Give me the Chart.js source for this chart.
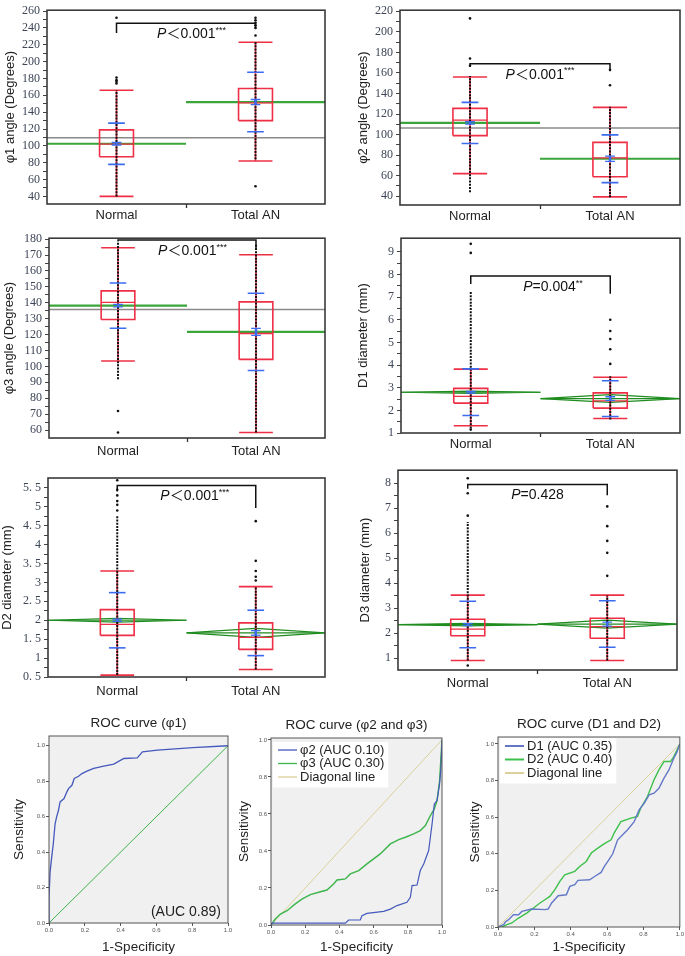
<!DOCTYPE html>
<html>
<head>
<meta charset="utf-8">
<script src="https://cdn.jsdelivr.net/npm/chart.js@4.4.0/dist/chart.umd.min.js"></script>
<style>
  body { margin: 0; background: #fff; width: 685px; height: 956px; position: relative; overflow: hidden; }
  .panel { position: absolute; }
</style>
</head>
<body>
<div class="panel" style="left:0;top:0;width:335px;height:226px"><canvas id="c1"></canvas></div>
<div class="panel" style="left:340px;top:0;width:345px;height:226px"><canvas id="c2"></canvas></div>
<div class="panel" style="left:0;top:228px;width:335px;height:232px"><canvas id="c3"></canvas></div>
<div class="panel" style="left:340px;top:228px;width:345px;height:226px"><canvas id="c4"></canvas></div>
<div class="panel" style="left:0;top:460px;width:335px;height:240px"><canvas id="c5"></canvas></div>
<div class="panel" style="left:340px;top:460px;width:345px;height:234px"><canvas id="c6"></canvas></div>
<div class="panel" style="left:0;top:700px;width:236px;height:256px"><canvas id="r1"></canvas></div>
<div class="panel" style="left:236px;top:700px;width:212px;height:256px"><canvas id="r2"></canvas></div>
<div class="panel" style="left:452px;top:700px;width:233px;height:256px"><canvas id="r3"></canvas></div>
<script>
// ===============================
//   data
// ===============================
const groups = ["Normal", "Total AN"];

// box = [q1, median, q3, whisker low, whisker high] per group
// φ1 angle
const phi1Box = [[87, 102, 119, 40, 166], [130, 151, 168, 82, 223]];
const phi1Mean = [102.5, 152];
const phi1Sd = [24.5, 35.3];
const phi1Se = [1.5, 3];
const phi1Grand = 109.5;
const phi1Dense = [[40, 166], [84, 224]];
const phi1Dots = [[252, 181, 178, 176, 174], [252, 249, 246, 243, 240, 231, 52]];
const phi1Ticks = [40, 60, 80, 100, 120, 140, 160, 180, 200, 220, 240, 260];
const phi1Bracket = [245.5, 234, 239];
const phi1P = ["＜0.001", "***"];

// φ2 angle
const phi2Box = [[99, 114, 125.5, 62, 156], [59, 77.3, 92.4, 39.4, 126.5]];
const phi2Mean = [111.3, 76.5];
const phi2Sd = [20, 23.2];
const phi2Se = [1.2, 2.5];
const phi2Grand = 106.3;
const phi2Dense = [[44, 157], [39, 127]];
const phi2Dots = [[213, 174, 167], [163, 148]];
const phi2Ticks = [40, 60, 80, 100, 120, 140, 160, 180, 200, 220];
const phi2Bracket = [168.8, 166, 161.5];
const phi2P = ["＜0.001", "***"];

// φ3 angle
const phi3Box = [[129.5, 140.2, 147.5, 103.4, 174.6], [104.4, 120.7, 140.6, 58.5, 170.2]];
const phi3Mean = [138.2, 121.7];
const phi3Sd = [14.2, 24.3];
const phi3Se = [0.8, 2.2];
const phi3Grand = 135.8;
const phi3Dense = [[92, 178], [58.5, 177]];
const phi3Dots = [[72, 58.5], []];
const phi3Ticks = [60, 70, 80, 90, 100, 110, 120, 130, 140, 150, 160, 170, 180];
const phi3Bracket = [179.4, 178.5, 174];
const phi3P = ["＜0.001", "***"];

// D1 diameter
const d1Box = [[2.32, 2.62, 2.97, 1.32, 3.82], [2.1, 2.42, 2.77, 1.64, 3.46]];
const d1Mean = [2.8, 2.52];
const d1Sd = [1.03, 0.79];
const d1Se = [0.04, 0.08];
const d1Ci = [0.05, 0.17];
const d1Dense = [[1.2, 7.25], [1.6, 3.5]];
const d1Dots = [[9.35, 8.95, 1.15], [6.0, 5.5, 5.15, 4.7, 4.05]];
const d1Ticks = [1, 2, 3, 4, 5, 6, 7, 8, 9];
const d1Bracket = [7.93, 7.58, 7.15];
const d1P = ["=0.004", "**"];

// D2 diameter
const d2Box = [[1.6, 1.89, 2.28, 0.55, 3.3], [1.23, 1.55, 1.93, 0.7, 2.89]];
const d2Mean = [2.0, 1.665];
const d2Sd = [0.73, 0.6];
const d2Se = [0.03, 0.06];
const d2Ci = [0.05, 0.12];
const d2Dense = [[0.55, 4.75], [0.7, 2.9]];
const d2Dots = [[5.7, 5.45, 5.3, 5.15, 5.05, 4.9], [4.62, 3.57, 3.3, 3.15, 3.05]];
const d2Ticks = [0.5, 1, 1.5, 2, 2.5, 3, 3.5, 4, 4.5, 5, 5.5];
const d2Bracket = [5.56, 5.4, 4.97];
const d2P = ["＜0.001", "***"];

// D3 diameter
const d3Box = [[1.89, 2.16, 2.55, 0.9, 3.52], [1.79, 2.26, 2.59, 0.9, 3.52]];
const d3Mean = [2.34, 2.36];
const d3Sd = [0.93, 0.93];
const d3Se = [0.04, 0.08];
const d3Ci = [0.05, 0.16];
const d3Dense = [[0.9, 6.45], [0.9, 3.5]];
const d3Dots = [[8.2, 7.6, 6.7, 0.7], [7.07, 6.28, 5.69, 5.21, 4.29]];
const d3Ticks = [1, 2, 3, 4, 5, 6, 7, 8];
const d3Bracket = [7.95, 7.78, 7.52];
const d3P = ["=0.428", ""];

// ROC curves (1-specificity, sensitivity)
const rocTicks = [0, 0.2, 0.4, 0.6, 0.8, 1];
const diagFpr = [0, 1];
const diagTpr = [0, 1];
const rocPhi1Fpr = [0, 0, 0.006, 0.015, 0.024, 0.034, 0.043, 0.053, 0.062, 0.084, 0.1, 0.109, 0.128, 0.141, 0.165, 0.184, 0.212, 0.25, 0.306, 0.362, 0.418, 0.493, 0.522, 0.606, 0.803, 1];
const rocPhi1Tpr = [0, 0.145, 0.287, 0.37, 0.447, 0.56, 0.6, 0.636, 0.683, 0.702, 0.74, 0.758, 0.777, 0.815, 0.828, 0.843, 0.857, 0.872, 0.885, 0.896, 0.928, 0.932, 0.966, 0.975, 0.989, 1];
const rocPhi2Fpr = [0, 0.006, 0.435, 0.454, 0.522, 0.532, 0.561, 0.659, 0.698, 0.737, 0.795, 0.815, 0.825, 0.854, 0.873, 0.893, 0.922, 0.932, 0.942, 0.955, 0.971, 0.986, 0.994, 1];
const rocPhi2Tpr = [0, 0.01, 0.01, 0.027, 0.027, 0.05, 0.063, 0.074, 0.086, 0.105, 0.123, 0.15, 0.213, 0.216, 0.294, 0.33, 0.402, 0.474, 0.546, 0.654, 0.672, 0.762, 0.852, 1];
const rocPhi3Fpr = [0, 0.025, 0.055, 0.094, 0.142, 0.181, 0.23, 0.279, 0.327, 0.366, 0.386, 0.435, 0.464, 0.513, 0.561, 0.6, 0.639, 0.698, 0.747, 0.786, 0.834, 0.873, 0.903, 0.932, 0.955, 0.971, 0.986, 0.994, 1];
const rocPhi3Tpr = [0, 0.032, 0.059, 0.077, 0.114, 0.14, 0.164, 0.177, 0.189, 0.222, 0.243, 0.249, 0.276, 0.294, 0.33, 0.357, 0.384, 0.438, 0.461, 0.474, 0.492, 0.51, 0.537, 0.591, 0.627, 0.672, 0.78, 0.906, 1];
const rocD1Fpr = [0, 0.031, 0.04, 0.058, 0.085, 0.113, 0.131, 0.185, 0.258, 0.276, 0.295, 0.331, 0.376, 0.395, 0.422, 0.44, 0.504, 0.531, 0.567, 0.585, 0.604, 0.631, 0.658, 0.695, 0.713, 0.749, 0.776, 0.804, 0.831, 0.858, 0.885, 0.913, 0.94, 0.967, 0.985, 1];
const rocD1Tpr = [0, 0.013, 0.027, 0.04, 0.067, 0.067, 0.085, 0.098, 0.095, 0.098, 0.131, 0.171, 0.176, 0.222, 0.231, 0.255, 0.258, 0.276, 0.298, 0.331, 0.358, 0.4, 0.476, 0.513, 0.531, 0.576, 0.64, 0.676, 0.722, 0.731, 0.758, 0.813, 0.858, 0.922, 0.958, 1];
const rocD2Fpr = [0, 0.022, 0.049, 0.076, 0.113, 0.158, 0.195, 0.231, 0.258, 0.285, 0.313, 0.34, 0.367, 0.422, 0.449, 0.485, 0.513, 0.549, 0.585, 0.622, 0.64, 0.676, 0.731, 0.767, 0.785, 0.822, 0.858, 0.885, 0.913, 0.949, 0.967, 1];
const rocD2Tpr = [0, 0, 0.013, 0.022, 0.049, 0.076, 0.104, 0.131, 0.149, 0.167, 0.204, 0.249, 0.285, 0.304, 0.331, 0.358, 0.404, 0.431, 0.455, 0.476, 0.516, 0.576, 0.595, 0.604, 0.649, 0.713, 0.804, 0.858, 0.904, 0.904, 0.931, 1];

// ===============================
//   styles
// ===============================
const SANS = '"Liberation Sans", Arial, "Noto Sans CJK SC", sans-serif';
const SERIF = '"Liberation Serif", "Times New Roman", serif';
Chart.defaults.font.family = SANS;

const RED = "#ee2f45";
const BLUE = "#3b6cf0";
const GREEN = "#3aa53a";
const DGREEN = "#1f8c1f";
const GRAY = "#8a8a8a";
const BOX_HALF = 0.122;
const SD_HALF = 0.06;

// -------------------------------
// plugins: frame / background / titles / legend / p labels
// -------------------------------
const framePlugin = {
    id: "frame",
    beforeDraw(chart, args, o) {
        const { ctx, chartArea: a } = chart;
        ctx.save();
        if (o.fill) {
            ctx.fillStyle = o.fill;
            ctx.fillRect(a.left, a.top, a.width, a.height);
        }
        if (o.title) {
            ctx.fillStyle = "#222";
            ctx.font = "13.5px " + SANS;
            ctx.textAlign = "center";
            ctx.textBaseline = "middle";
            ctx.fillText(o.title, (a.left + a.right) / 2, a.top - 13);
        }
        ctx.restore();
    },
    afterDatasetsDraw(chart, args, o) {
        const { ctx, scales, chartArea: a } = chart;
        ctx.save();
        if (o.note) {
            ctx.fillStyle = "#222";
            ctx.font = "14px " + SANS;
            ctx.textAlign = "center";
            ctx.textBaseline = "middle";
            ctx.fillText(o.note.text, scales.x.getPixelForValue(o.note.x), scales.y.getPixelForValue(o.note.y));
        }
        if (o.legend) {
            // legend box inside the plot, top left
            const items = chart.data.datasets;
            ctx.font = "13px " + SANS;
            const textW = Math.max(...items.map(d => ctx.measureText(d.label).width));
            const x0 = a.left + o.legend.dx, y0 = a.top + o.legend.dy, row = 13.5;
            ctx.fillStyle = "#fff";
            ctx.fillRect(a.left + 2, y0 - 8, o.legend.dx + 24 + textW, row * items.length + 5);
            items.forEach((d, k) => {
                const yy = y0 + k * row;
                ctx.strokeStyle = d.borderColor;
                ctx.lineWidth = o.legend.lw;
                ctx.beginPath();
                ctx.moveTo(x0, yy);
                ctx.lineTo(x0 + 19, yy);
                ctx.stroke();
                ctx.fillStyle = "#222";
                ctx.textAlign = "left";
                ctx.textBaseline = "middle";
                ctx.fillText(d.label, x0 + 22, yy);
            });
        }
        ctx.restore();
    },
    afterDraw(chart, args, o) {
        const { ctx, chartArea: a } = chart;
        ctx.save();
        ctx.strokeStyle = o.color || "#3a3a3a";
        ctx.lineWidth = o.width || 1.6;
        ctx.strokeRect(a.left, a.top, a.width, a.height);
        ctx.restore();
    }
};

const pLabelPlugin = {
    id: "pLabel",
    afterDatasetsDraw(chart, args, o) {
        if (!o.parts) return;
        const { ctx, scales: { x, y } } = chart;
        const px = x.getPixelForValue(o.x);
        const py = y.getPixelForValue(o.y) + 11;
        const fItal = "italic 14px " + SANS, fMain = "14px " + SANS, fSup = "9px " + SANS;
        ctx.save();
        ctx.fillStyle = "#111";
        ctx.textBaseline = "middle";
        ctx.textAlign = "left";
        ctx.font = fItal; const w1 = ctx.measureText("P").width;
        ctx.font = fMain; const w2 = ctx.measureText(o.parts[0]).width;
        ctx.font = fSup; const w3 = ctx.measureText(o.parts[1]).width;
        let cx = px - (w1 + w2 + w3) / 2;
        ctx.font = fItal; ctx.fillText("P", cx, py); cx += w1;
        ctx.font = fMain; ctx.fillText(o.parts[0], cx, py); cx += w2;
        ctx.font = fSup; ctx.fillText(o.parts[1], cx, py - 4);
        ctx.restore();
    }
};

Chart.register(framePlugin, pLabelPlugin);

// -------------------------------
// helpers
// -------------------------------
function seg(pts, color, width, dash) {
    return {
        data: pts,
        borderColor: color,
        borderWidth: width,
        borderDash: dash || [],
        pointRadius: 0,
        fill: false,
        tension: 0
    };
}

function fmtTick(v) {
    return Number.isInteger(v) ? String(v) : v.toFixed(1).replace(".", ". ");
}

// -------------------------------
// box plot panel
// -------------------------------
function dibujarCaja(p) {
    const ds = [];  // bottom to top

    if (p.grand !== undefined) {
        ds.push(seg([{ x: 0, y: p.grand }, { x: 2, y: p.grand }], GRAY, 1.5));
    }

    p.box.forEach((b, i) => {
        const c = i + 0.5;
        const [q1, med, q3, lo, hi] = b;
        const m = p.mean[i], s = p.sd[i], e = p.se[i];

        // group mean line / means diamond
        if (p.ci) {
            const h = p.ci[i];
            ds.push(seg([{ x: i, y: m }, { x: c, y: m + h }, { x: i + 1, y: m }, { x: c, y: m - h }, { x: i, y: m }], DGREEN, 1.2));
            ds.push(seg([{ x: i, y: m }, { x: i + 1, y: m }], DGREEN, 1.2));
        } else {
            ds.push(seg([{ x: i, y: m }, { x: i + 1, y: m }], GREEN, 2.2));
        }

        // box + whiskers
        ds.push(seg([{ x: c, y: lo }, { x: c, y: hi }], RED, 1.6));
        ds.push(seg([{ x: c - BOX_HALF, y: lo }, { x: c + BOX_HALF, y: lo }], RED, 1.6));
        ds.push(seg([{ x: c - BOX_HALF, y: hi }, { x: c + BOX_HALF, y: hi }], RED, 1.6));
        ds.push(seg([{ x: c - BOX_HALF, y: q1 }, { x: c + BOX_HALF, y: q1 }, { x: c + BOX_HALF, y: q3 },
                     { x: c - BOX_HALF, y: q3 }, { x: c - BOX_HALF, y: q1 }], RED, 1.6));
        ds.push(seg([{ x: c - BOX_HALF, y: med }, { x: c + BOX_HALF, y: med }], RED, 1.3));

        // data points
        ds.push(seg([{ x: c, y: p.dense[i][0] }, { x: c, y: p.dense[i][1] }], "#111", 2, [2, 1.2]));
        ds.push({
            data: p.dots[i].map(v => ({ x: c, y: v })),
            showLine: false,
            pointRadius: 1.3,
            pointBackgroundColor: "#111",
            pointBorderWidth: 0
        });

        // mean ± sd, mean ± se
        ds.push(seg([{ x: c - SD_HALF, y: m + s }, { x: c + SD_HALF, y: m + s }], BLUE, 1.6));
        ds.push(seg([{ x: c - SD_HALF, y: m - s }, { x: c + SD_HALF, y: m - s }], BLUE, 1.6));
        ds.push(seg([{ x: c, y: m - e }, { x: c, y: m + e }], BLUE, 2.5));
        ds.push(seg([{ x: c - 0.035, y: m + e }, { x: c + 0.035, y: m + e }], BLUE, 1.3));
        ds.push(seg([{ x: c - 0.035, y: m - e }, { x: c + 0.035, y: m - e }], BLUE, 1.3));
    });

    // significance bracket
    const [yb, yl, yr] = p.bracket;
    ds.push(seg([{ x: 0.5, y: yl }, { x: 0.5, y: yb }, { x: 1.5, y: yb }, { x: 1.5, y: yr }], "#111", 1.5));

    const majors = new Set(p.ticks.map(v => v.toFixed(3)));
    const allTicks = [];
    p.ticks.forEach((v, k) => {
        allTicks.push(v);
        if (k < p.ticks.length - 1) allTicks.push((v + p.ticks[k + 1]) / 2);
    });

    new Chart(document.getElementById(p.id), {
        type: "line",
        data: { datasets: ds.reverse() },
        options: {
            animation: false,
            responsive: true,
            maintainAspectRatio: false,
            events: [],
            layout: { padding: { top: p.padT, right: p.padR, left: 0, bottom: 0 } },
            plugins: {
                legend: { display: false },
                tooltip: { enabled: false },
                frame: { color: "#3a3a3a", width: 1.6 },
                pLabel: { parts: p.p, x: p.pX, y: yb }
            },
            scales: {
                x: {
                    type: "linear",
                    min: 0,
                    max: 2,
                    afterBuildTicks: s => { s.ticks = [0.5, 1, 1.5].map(v => ({ value: v })); },
                    afterFit: s => { s.height = p.xH; },
                    ticks: {
                        autoSkip: false,
                        maxRotation: 0,
                        padding: p.xPad,
                        color: "#222",
                        font: { size: 13 },
                        callback: v => v === 0.5 ? groups[0] : v === 1.5 ? groups[1] : ""
                    },
                    grid: {
                        drawOnChartArea: false,
                        tickLength: 4,
                        tickWidth: 1.3,
                        tickColor: ctx => ctx.tick && ctx.tick.value === 1 ? "#333" : "rgba(0,0,0,0)"
                    },
                    border: { display: false }
                },
                y: {
                    type: "linear",
                    min: p.min,
                    max: p.max,
                    afterBuildTicks: s => { s.ticks = allTicks.map(v => ({ value: v })); },
                    afterFit: s => { s.width = p.yW; },
                    ticks: {
                        autoSkip: false,
                        padding: 3,
                        color: "#3d4556",
                        font: { size: 12, family: SERIF },
                        callback: v => majors.has(v.toFixed(3)) ? fmtTick(v) : ""
                    },
                    grid: { drawOnChartArea: false, tickLength: 4, tickColor: "#444" },
                    border: { display: false },
                    title: {
                        display: true,
                        text: p.yTitle,
                        color: "#222",
                        font: { size: 13 },
                        padding: { top: p.tPad, bottom: 0 }
                    }
                }
            }
        }
    });
}

// -------------------------------
// ROC panel
// -------------------------------
function dibujarRoc(r) {
    new Chart(document.getElementById(r.id), {
        type: "line",
        data: {
            datasets: r.series.map(s => ({
                label: s.label,
                data: s.x.map((v, k) => ({ x: v, y: s.y[k] })),
                borderColor: s.color,
                backgroundColor: s.color,
                borderWidth: s.w,
                pointRadius: 0,
                tension: 0,
                fill: false
            }))
        },
        options: {
            animation: false,
            responsive: true,
            maintainAspectRatio: false,
            events: [],
            layout: { padding: { top: r.padT, right: r.padR, left: 0, bottom: 0 } },
            plugins: {
                legend: { display: false },
                tooltip: { enabled: false },
                frame: { fill: "#f0f0f0", color: "#555", width: 1, title: r.title, legend: r.legend, note: r.note }
            },
            scales: {
                x: {
                    type: "linear",
                    min: 0,
                    max: 1,
                    afterBuildTicks: s => { s.ticks = rocTicks.map(v => ({ value: v })); },
                    afterFit: s => { s.height = r.xH; },
                    ticks: { autoSkip: false, maxRotation: 0, padding: 1, color: "#555", font: { size: 6 }, callback: v => v.toFixed(1) },
                    grid: { drawOnChartArea: false, tickLength: 3, tickColor: "#555" },
                    border: { display: false },
                    title: { display: true, text: "1-Specificity", color: "#222", font: { size: 13.5 }, padding: { top: 0, bottom: r.xtPad } }
                },
                y: {
                    type: "linear",
                    min: 0,
                    max: r.yMax,
                    afterBuildTicks: s => { s.ticks = rocTicks.map(v => ({ value: v })); },
                    afterFit: s => { s.width = r.yW; },
                    ticks: { autoSkip: false, padding: 1, color: "#555", font: { size: 6 }, callback: v => v.toFixed(1) },
                    grid: { drawOnChartArea: false, tickLength: 3, tickColor: "#555" },
                    border: { display: false },
                    title: { display: true, text: "Sensitivity", color: "#222", font: { size: 13.5 }, padding: { top: r.ytPad, bottom: 0 } }
                }
            }
        }
    });
}

// ===============================
//   build all panels
// ===============================
const boxPanels = [
    { id: "c1", box: phi1Box, mean: phi1Mean, sd: phi1Sd, se: phi1Se, grand: phi1Grand, dense: phi1Dense, dots: phi1Dots,
      ticks: phi1Ticks, bracket: phi1Bracket, p: phi1P, yTitle: "φ1 angle (Degrees)",
      min: 31, max: 261, yW: 47, xH: 22, padT: 5, padR: 10, tPad: 2.2, xPad: 0, pX: 1.04 },
    { id: "c2", box: phi2Box, mean: phi2Mean, sd: phi2Sd, se: phi2Se, grand: phi2Grand, dense: phi2Dense, dots: phi2Dots,
      ticks: phi2Ticks, bracket: phi2Bracket, p: phi2P, yTitle: "φ2 angle (Degrees)",
      min: 31.5, max: 221, yW: 60, xH: 21, padT: 5, padR: 5, tPad: 15.2, xPad: 0, pX: 1.0 },
    { id: "c3", box: phi3Box, mean: phi3Mean, sd: phi3Sd, se: phi3Se, grand: phi3Grand, dense: phi3Dense, dots: phi3Dots,
      ticks: phi3Ticks, bracket: phi3Bracket, p: phi3P, yTitle: "φ3 angle (Degrees)",
      min: 55, max: 180.6, yW: 49, xH: 22, padT: 10, padR: 10, tPad: 1.2, xPad: 2, pX: 1.04 },
    { id: "c4", box: d1Box, mean: d1Mean, sd: d1Sd, se: d1Se, ci: d1Ci, dense: d1Dense, dots: d1Dots,
      ticks: d1Ticks, bracket: d1Bracket, p: d1P, yTitle: "D1 diameter (mm)",
      min: 1, max: 9.6, yW: 61, xH: 21, padT: 2, padR: 5, tPad: 15.2, xPad: 0, pX: 1.09 },
    { id: "c5", box: d2Box, mean: d2Mean, sd: d2Sd, se: d2Se, ci: d2Ci, dense: d2Dense, dots: d2Dots,
      ticks: d2Ticks, bracket: d2Bracket, p: d2P, yTitle: "D2 diameter (mm)",
      min: 0.5, max: 5.76, yW: 48, xH: 23, padT: 18, padR: 10, tPad: 0, xPad: 3, pX: 1.06 },
    { id: "c6", box: d3Box, mean: d3Mean, sd: d3Sd, se: d3Se, ci: d3Ci, dense: d3Dense, dots: d3Dots,
      ticks: d3Ticks, bracket: d3Bracket, p: d3P, yTitle: "D3 diameter (mm)",
      min: 0.52, max: 8.52, yW: 58, xH: 24, padT: 9, padR: 8, tPad: 17.2, xPad: 2, pX: 1.0 }
];
boxPanels.forEach(dibujarCaja);

dibujarRoc({
    id: "r1", title: "ROC curve (φ1)", legend: null, yMax: 1.055,
    padT: 36, padR: 8, yW: 49, xH: 33, ytPad: 11.6, xtPad: 0.6,
    note: { text: "(AUC 0.89)", x: 0.765, y: 0.06 },
    series: [
        { label: "φ1", x: rocPhi1Fpr, y: rocPhi1Tpr, color: "#4459bb", w: 1.3 },
        { label: "Diagonal line", x: diagFpr, y: diagTpr, color: "#3cb54a", w: 1 }
    ]
});
dibujarRoc({
    id: "r2", title: "ROC curve (φ2 and φ3)", legend: { dx: 7, dy: 12, lw: 1.3 }, yMax: 1.01,
    padT: 38, padR: 6, yW: 35, xH: 31, ytPad: 0.6, xtPad: 0.6,
    series: [
        { label: "φ2 (AUC 0.10)", x: rocPhi2Fpr, y: rocPhi2Tpr, color: "#4459bb", w: 1.2 },
        { label: "φ3 (AUC 0.30)", x: rocPhi3Fpr, y: rocPhi3Tpr, color: "#3cb54a", w: 1.4 },
        { label: "Diagonal line", x: diagFpr, y: diagTpr, color: "#dbd09a", w: 1 }
    ]
});
dibujarRoc({
    id: "r3", title: "ROC curve (D1 and D2)", legend: { dx: 7, dy: 9, lw: 2 }, yMax: 1.038,
    padT: 37, padR: 3, yW: 46, xH: 29, ytPad: 15.6, xtPad: 0.9,
    series: [
        { label: "D1 (AUC 0.35)", x: rocD1Fpr, y: rocD1Tpr, color: "#6478c8", w: 1.4 },
        { label: "D2 (AUC 0.40)", x: rocD2Fpr, y: rocD2Tpr, color: "#3cc04a", w: 1.4 },
        { label: "Diagonal line", x: diagFpr, y: diagTpr, color: "#dbd09a", w: 1 }
    ]
});
</script>
</body>
</html>
